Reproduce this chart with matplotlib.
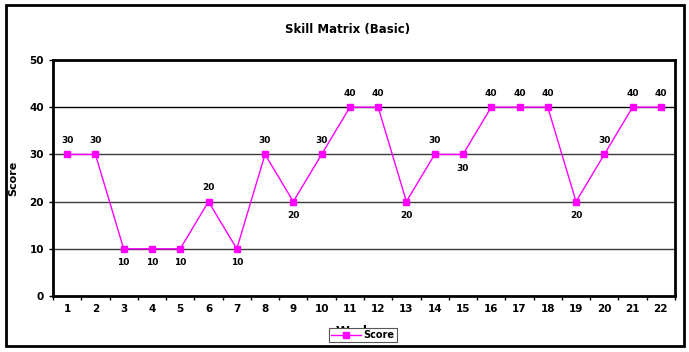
import matplotlib
matplotlib.use("Agg")
import matplotlib.pyplot as plt
from matplotlib.patches import Rectangle
from matplotlib.ticker import FixedLocator, NullFormatter

workers = [str(i) for i in range(1, 23)]
scores = [30, 30, 10, 10, 10, 20, 10, 30, 20, 30, 40, 40, 20, 30, 30, 40, 40, 40, 20, 30, 40, 40]
label_below = [False, False, True, True, True, False, True, False, True, False, False,
               False, True, False, True, False, False, False, True, False, False, False]

fig = plt.figure(figsize=(6.89, 3.52), dpi=100)
fig.patches.append(Rectangle((6/689, 1-346/352), 678/689, 341/352, transform=fig.transFigure,
                             fill=False, edgecolor='black', linewidth=2.0, zorder=0))

ax = fig.add_axes([53/689, 1-296/352, 622/689, 236/352])
x = list(range(1, len(workers) + 1))
ax.plot(x, scores, color='#ff00ff', linewidth=1.0, marker='s', markersize=5,
        markerfacecolor='#ff00ff', markeredgecolor='#ff00ff', label='Score', zorder=3)

for xi, v, below in zip(x, scores, label_below):
    off = -10 if below else 10
    ax.annotate(str(v), (xi, v), xytext=(0, off), textcoords='offset points',
                ha='center', va='center', fontsize=6.5, fontweight='bold')

ax.set_xlim(0.5, len(workers) + 0.5)
ax.set_ylim(0, 50)
ax.set_yticks([0, 10, 20, 30, 40, 50])
ax.set_xticks(x)
ax.set_xticklabels(workers, fontsize=7.5, fontweight='bold')
ax.tick_params(axis='x', length=0, pad=6)
ax.xaxis.set_minor_locator(FixedLocator([i + 0.5 for i in range(0, len(workers) + 1)]))
ax.xaxis.set_minor_formatter(NullFormatter())
ax.tick_params(axis='x', which='minor', length=3, direction='out', width=1)
ax.tick_params(axis='y', labelsize=7.5, length=3, width=1)
for lab in ax.get_yticklabels():
    lab.set_fontweight('bold')

for y, c in [(10, '#3a3a3a'), (20, '#3a3a3a'), (30, '#3a3a3a'), (40, '#000000')]:
    ax.axhline(y, color=c, linewidth=1.0, zorder=1)

for sp in ax.spines.values():
    sp.set_linewidth(2.0)

ax.set_ylabel('Score', fontsize=8, fontweight='bold', labelpad=8)
ax.set_xlabel('Workers', fontsize=9, fontweight='bold', labelpad=8)
fig.text(348/689, 1-30/352, 'Skill Matrix (Basic)', ha='center', va='center',
         fontsize=8.5, fontweight='bold')

leg = ax.legend(loc='center', bbox_to_anchor=(363/689, 1-335/352), bbox_transform=fig.transFigure,
                fontsize=7, frameon=True, fancybox=False, edgecolor='#555555', framealpha=1.0,
                handlelength=3.0, borderpad=0.25, handletextpad=0.3, markerscale=0.9)
leg.get_frame().set_linewidth(0.8)
for t in leg.get_texts():
    t.set_fontweight('bold')
leg.set_zorder(10)

fig.savefig('out.png', dpi=100)
